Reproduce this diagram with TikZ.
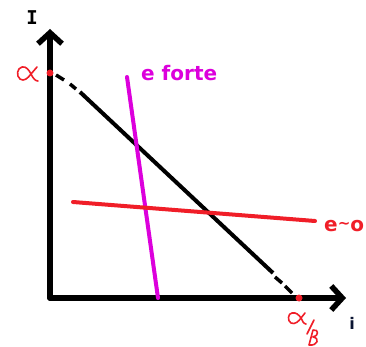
\documentclass[tikz,border=0pt]{standalone}
\usepackage{fontspec}
\setmainfont{DejaVu Sans}
\newfontfamily\monofam{DejaVu Sans Mono}
\usetikzlibrary{arrows.meta}
\definecolor{mag}{RGB}{220,0,220}
\definecolor{rd}{RGB}{240,30,40}
\definecolor{ilab}{RGB}{10,20,50}
\tikzset{
  axis/.style={line width=5.5pt, line cap=round, -{Straight Barb[length=11pt,width=24pt,line width=5.5pt]}},
  lbl/.style={font=\bfseries\fontsize{20}{20}\selectfont, inner sep=0pt, anchor=west},
  hand/.style={rd, line width=1.6pt, line cap=round, line join=round},
  dot/.style={circle, fill=rd, inner sep=0pt, minimum size=7pt},
  blk/.style={line width=4pt},
  dsh/.style={line width=3.5pt}
}
\begin{document}
\begin{tikzpicture}[x=1pt,y=-1pt]
\useasboundingbox (0,0) rectangle (366,347);
\coordinate (O) at (50,298);
\coordinate (Ytip) at (50,29);
\coordinate (Xtip) at (346,298);
\draw[axis] (O) -- (Ytip);
\draw[axis] (O) -- (Xtip);
\node[font=\monofam\bfseries\fontsize{19}{19}\selectfont, inner sep=0pt] (I) at (32,18) {I};
\node[font=\bfseries\fontsize{16}{16}\selectfont, text=ilab, inner sep=0pt] (i) at (352,323) {i};
% black line
\coordinate (A) at (50,73);
\coordinate (B) at (299,298);
\coordinate (a1) at (56,75);
\coordinate (a2) at (64,80);
\coordinate (a3) at (70,84);
\coordinate (a4) at (76,89);
\coordinate (A2) at (80,92);
\coordinate (B2) at (273,273);
\coordinate (b1) at (275,277);
\coordinate (b2) at (282,283);
\coordinate (b3) at (285,286);
\coordinate (b4) at (292,293);
\draw[blk] (A2) -- (B2);
\draw[dsh] (a1) -- (a2) (a3) -- (a4) (b1) -- (b2) (b3) -- (b4);
\node[dot] (da) at (A) {};
\node[dot] (db) at (B) {};
% magenta line
\coordinate (m1) at (127,77);
\coordinate (m2) at (158,298);
\draw[mag, line width=4pt, line cap=round] (m1) -- (m2);
\node[lbl, text=mag] (ef) at (141,73) {e forte};
% red line
\coordinate (r1) at (73,202);
\coordinate (r2) at (315,221);
\draw[rd, line width=4pt, line cap=round] (r1) -- (r2);
\node[lbl, text=rd] (eo) at (324,226) {e{\fontsize{15}{15}\selectfont\raisebox{3pt}{\char`\~}}o};
% alpha handwritten
\draw[hand] (37,67) .. controls (34,70) .. (31,74) .. controls (28,78) and (24,82) .. (20,79) .. controls (16,76) and (17,68) .. (22,67) .. controls (26,66) and (29,70) .. (31,74) .. controls (33,78) and (35,81) .. (38,81);
% alpha / beta
\draw[hand] (305,313) .. controls (303,315) .. (301,318) .. controls (299,321) and (295,325) .. (291,323) .. controls (287,321) and (288,313) .. (292,313) .. controls (296,312) and (299,315) .. (301,318) .. controls (302,321) and (304,324) .. (306,324);
\draw[hand] (314,320) -- (307,334);
\draw[hand] (309,345) -- (313,330) .. controls (319,329) and (319,336) .. (313,337) .. controls (320,338) and (318,346) .. (309,345);
\end{tikzpicture}
\end{document}
